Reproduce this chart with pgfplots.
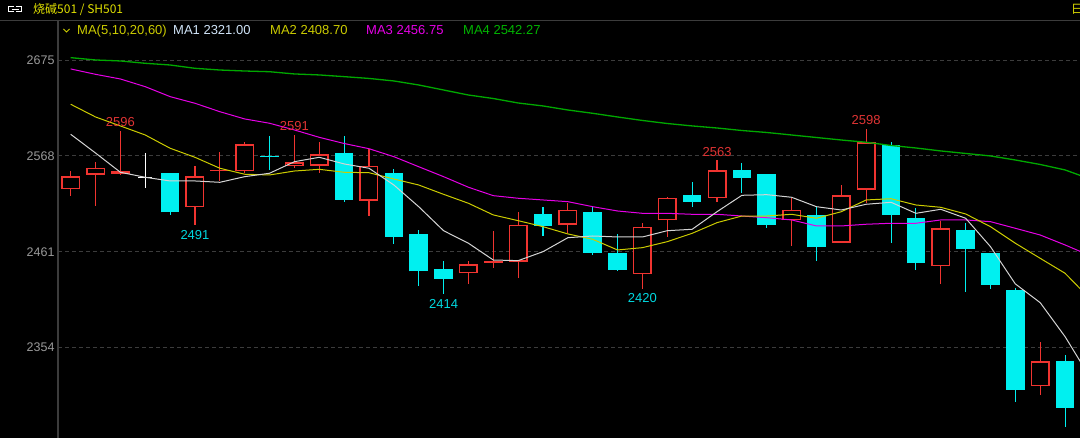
\documentclass[border=0pt]{standalone}
\usepackage{fontspec}
\setmainfont{Liberation Sans}
\newfontfamily\cjk{Noto Sans CJK SC}
\usepackage{pgfplots}
\usepackage{pgfplotstable}
\pgfplotsset{compat=1.18}

\definecolor{upred}{HTML}{F03430}
\definecolor{dncyan}{HTML}{00F0F0}
\definecolor{ma1}{HTML}{D4D4D4}
\definecolor{ma2}{HTML}{CCCC00}
\definecolor{ma3}{HTML}{E600E6}
\definecolor{ma4}{HTML}{00A800}
\definecolor{gridc}{HTML}{3C3C3C}
\definecolor{tickc}{HTML}{9A9A9A}
\definecolor{hdr}{HTML}{E0E000}
\definecolor{ma1txt}{HTML}{D0E4F8}
\definecolor{ma4txt}{HTML}{00B400}
\definecolor{lblred}{HTML}{E03434}
\definecolor{lblcyan}{HTML}{00D8E0}

% rising candles: index, open, high, low, close
\pgfplotstableread{
i O H L C
1 2531 2551 2523 2545
2 2547 2561 2512 2555
3 2548 2596 2547 2551
6 2511 2557 2491 2545
7 2551 2572 2540 2552
8 2551 2584 2549 2581
10 2557 2591 2555 2561
11 2557 2583 2549 2570
13 2518 2576 2501 2557
17 2437 2451 2425 2447
18 2449 2484 2443 2451
19 2450 2505 2432 2491
21 2491 2515 2482 2508
24 2436 2493 2420 2489
25 2496 2522 2477 2521
27 2521 2563 2516 2552
30 2496 2521 2467 2508
32 2471 2536 2471 2524
33 2530 2598 2515 2583
36 2445 2495 2425 2487
40 2311 2360 2301 2339
}\upT
% falling candles
\pgfplotstableread{
i O H L C
5 2549 2549 2502 2505
9 2568 2590 2552 2567
12 2571 2590 2516 2519
14 2549 2553 2470 2478
15 2481 2485 2423 2439
16 2442 2451 2414 2431
20 2503 2511 2479 2490
22 2505 2512 2457 2460
23 2460 2481 2440 2441
26 2524 2539 2511 2517
28 2552 2560 2527 2543
29 2548 2548 2487 2491
31 2502 2512 2451 2466
34 2580 2584 2471 2502
35 2499 2510 2441 2448
37 2485 2493 2416 2464
38 2460 2460 2420 2424
39 2418 2421 2293 2307
41 2339 2346 2266 2287
}\dnT
% unchanged candle
\pgfplotstableread{
i O H L C
4 2543 2571 2532 2543
}\flT

\begin{document}
\begin{tikzpicture}
\useasboundingbox (0,0) rectangle (1080pt,438pt);
\fill[black] (0,0) rectangle (1080pt,438pt);
% header
\draw[gridc, line width=1pt] (0,417pt) -- (1080pt,417pt);
\draw[white, line width=1pt] (14pt,431.5pt) -- (8.5pt,431.5pt) -- (8.5pt,426pt) -- (14pt,426pt);
\draw[white, line width=1pt] (16pt,431.5pt) -- (21.5pt,431.5pt) -- (21.5pt,426pt) -- (16pt,426pt);
\draw[white, line width=1pt] (11.5pt,428.75pt) -- (18.5pt,428.75pt);
\node[anchor=base west, inner sep=0, text=hdr, font=\cjk\fontsize{12}{12}\selectfont] at (33pt,424pt) {烧碱501 / SH501};
\node[anchor=base west, inner sep=0, text=hdr, font=\cjk\fontsize{12}{12}\selectfont] at (1071pt,424pt) {日};
% legend row
\draw[ma2, line width=1pt] (63.5pt,409pt) -- (66.5pt,406pt) -- (69.5pt,409pt);
\node[anchor=base west, inner sep=0, text=ma2, font=\fontsize{13}{13}\selectfont] at (77pt,403pt) {MA(5,10,20,60)};
\node[anchor=base west, inner sep=0, text=ma1txt, font=\fontsize{13}{13}\selectfont] at (173pt,403pt) {MA1 2321.00};
\node[anchor=base west, inner sep=0, text=ma2, font=\fontsize{13}{13}\selectfont] at (270pt,403pt) {MA2 2408.70};
\node[anchor=base west, inner sep=0, text=ma3, font=\fontsize{13}{13}\selectfont] at (366pt,403pt) {MA3 2456.75};
\node[anchor=base west, inner sep=0, text=ma4txt, font=\fontsize{13}{13}\selectfont] at (463pt,403pt) {MA4 2542.27};

\begin{axis}[
  at={(58pt,0pt)}, anchor=south west,
  scale only axis, width=1022pt, height=417pt,
  xmin=0.49, xmax=41.6, ymin=2253.2, ymax=2718.5,
  axis lines*=left,
  x axis line style={draw=none},
  y axis line style={draw=gridc, line width=1.2pt},
  xtick=\empty,
  ytick={2354,2461,2568,2675},
  ymajorgrids,
  grid style={gridc, dash pattern=on 4pt off 3pt, line width=0.8pt},
  major tick length=0pt,
  yticklabel style={font=\fontsize{12.5}{12.5}\selectfont, text=tickc},
  /pgf/number format/assume math mode=true,
  /pgf/number format/1000 sep={},
  candle/.style={only marks, mark=none, mark size=0pt, mark options={draw=none, fill=none}, forget plot,
    /pgfplots/error bars/y explicit, /pgfplots/error bars/error mark=none},
]
% wicks
\addplot[candle, color=upred, /pgfplots/error bars/y dir=both, /pgfplots/error bars/error bar style={upred, line width=1.1pt}]
  table[x=i, y=C, y error plus expr=\thisrow{H}-\thisrow{C}, y error minus expr=\thisrow{C}-\thisrow{L}] {\upT};
\addplot[candle, color=dncyan, /pgfplots/error bars/y dir=both, /pgfplots/error bars/error bar style={dncyan, line width=1.1pt}]
  table[x=i, y=C, y error plus expr=\thisrow{H}-\thisrow{C}, y error minus expr=\thisrow{C}-\thisrow{L}] {\dnT};
\addplot[candle, color=white, /pgfplots/error bars/y dir=both, /pgfplots/error bars/error bar style={white, line width=1.1pt}]
  table[x=i, y=C, y error plus expr=\thisrow{H}-\thisrow{C}, y error minus expr=\thisrow{C}-\thisrow{L}] {\flT};
% bodies
\addplot[candle, color=upred, /pgfplots/error bars/y dir=plus, /pgfplots/error bars/error bar style={upred, line width=19pt}]
  table[x=i, y=O, y error plus expr={max(\thisrow{C}-\thisrow{O},1.6)}] {\upT};
\addplot[candle, color=black, /pgfplots/error bars/y dir=plus, /pgfplots/error bars/error bar style={black, line width=16pt}]
  table[x=i, y expr=\thisrow{O}+1.6, y error plus expr={max(\thisrow{C}-\thisrow{O}-3.2,0)}] {\upT};
\addplot[candle, color=dncyan, /pgfplots/error bars/y dir=plus, /pgfplots/error bars/error bar style={dncyan, line width=18.6pt}]
  table[x=i, y=C, y error plus expr={max(\thisrow{O}-\thisrow{C},1.3)}] {\dnT};
\addplot[candle, color=white, /pgfplots/error bars/y dir=plus, /pgfplots/error bars/error bar style={white, line width=14pt}]
  table[x=i, y=C, y error plus expr={max(\thisrow{O}-\thisrow{C},1.3)}] {\flT};

% MA4 (60)
\addplot[ma4, line width=1.3pt] coordinates {(1,2677.6)(2,2675)(3,2673.9)(4,2671.3)(5,2669.4)(6,2665.7)(7,2663.8)(8,2662.7)(9,2661.9)(10,2659.4)(11,2658.3)(12,2656.4)(13,2654.4)(14,2651.6)(15,2647.1)(16,2641.5)(17,2635.9)(18,2632)(19,2627)(20,2623.7)(21,2619.2)(22,2615.5)(23,2611.4)(24,2607.5)(25,2604.1)(26,2601.4)(27,2599.1)(28,2596.3)(29,2594.1)(30,2591.3)(31,2588.5)(32,2585.7)(33,2583.2)(34,2579.6)(35,2576.8)(36,2573.5)(37,2570.7)(38,2567.9)(39,2563.4)(40,2558.4)(41,2552.3)(42,2542.27)};
% MA3 (20)
\addplot[ma3, line width=1pt] coordinates {(1,2665)(2,2659)(3,2653.8)(4,2645.2)(5,2634.1)(6,2626.7)(7,2617.3)(8,2609.2)(9,2604.4)(10,2596.9)(11,2588.7)(12,2581.8)(13,2576)(14,2567.1)(15,2555.9)(16,2544.8)(17,2533)(18,2523.6)(19,2520.7)(20,2518.8)(21,2516.9)(22,2511.3)(23,2506.5)(24,2503.9)(25,2503.9)(26,2502.8)(27,2502.8)(28,2500.9)(29,2499)(30,2496.5)(31,2489.8)(32,2489.8)(33,2491.7)(34,2492.8)(35,2492.8)(36,2496.5)(37,2496.5)(38,2494.6)(39,2487.2)(40,2479.7)(41,2468.6)(42,2456.75)};
% MA2 (10)
\addplot[ma2, line width=1pt] coordinates {(1,2625.6)(2,2611.4)(3,2601.4)(4,2591.3)(5,2576.5)(6,2566.4)(7,2554.2)(8,2547.5)(9,2546.7)(10,2551.1)(11,2553)(12,2549.7)(13,2549.2)(14,2542.2)(15,2535.5)(16,2525.1)(17,2515.1)(18,2502.1)(19,2495.7)(20,2489)(21,2480.9)(22,2474.9)(23,2463)(24,2465.6)(25,2472.3)(26,2481.6)(27,2493.5)(28,2500.9)(29,2500.9)(30,2502.8)(31,2498.4)(32,2505.7)(33,2518.8)(34,2520.2)(35,2513.2)(36,2510.6)(37,2503.2)(38,2489)(39,2470.5)(40,2453.7)(41,2437)(42,2408.7)};
% MA1 (5)
\addplot[ma1, line width=1pt] coordinates {(1,2592.1)(2,2571.2)(3,2549.7)(4,2544.1)(5,2540)(6,2540)(7,2538.5)(8,2544.8)(9,2548.6)(10,2561.5)(11,2566.4)(12,2559)(13,2554.2)(14,2535.5)(15,2511.3)(16,2484.5)(17,2470.5)(18,2451.8)(19,2451.1)(20,2461.1)(21,2476.7)(22,2478.6)(23,2477.5)(24,2477.5)(25,2484.5)(26,2486.1)(27,2505.7)(28,2524)(29,2524.7)(30,2521.8)(31,2511.3)(32,2507.6)(33,2514)(34,2516.2)(35,2503.9)(36,2508.4)(37,2498.4)(38,2466.7)(39,2425.1)(40,2404.2)(41,2366.3)(42,2321)};

% high / low labels
\node[anchor=south, text=lblred, inner sep=0pt, yshift=4pt, font=\fontsize{13}{13}\selectfont] at (axis cs:3,2596) {2596};
\node[anchor=south, text=lblred, inner sep=0pt, yshift=4pt, font=\fontsize{13}{13}\selectfont] at (axis cs:10,2591) {2591};
\node[anchor=south, text=lblred, inner sep=0pt, yshift=4pt, font=\fontsize{13}{13}\selectfont] at (axis cs:27,2563) {2563};
\node[anchor=south, text=lblred, inner sep=0pt, yshift=4pt, font=\fontsize{13}{13}\selectfont] at (axis cs:33,2598) {2598};
\node[anchor=north, text=lblcyan, inner sep=0pt, yshift=-5pt, font=\fontsize{13}{13}\selectfont] at (axis cs:6,2491) {2491};
\node[anchor=north, text=lblcyan, inner sep=0pt, yshift=-5pt, font=\fontsize{13}{13}\selectfont] at (axis cs:16,2414) {2414};
\node[anchor=north, text=lblcyan, inner sep=0pt, yshift=-5pt, font=\fontsize{13}{13}\selectfont] at (axis cs:24,2420) {2420};
\end{axis}
\end{tikzpicture}
\end{document}
